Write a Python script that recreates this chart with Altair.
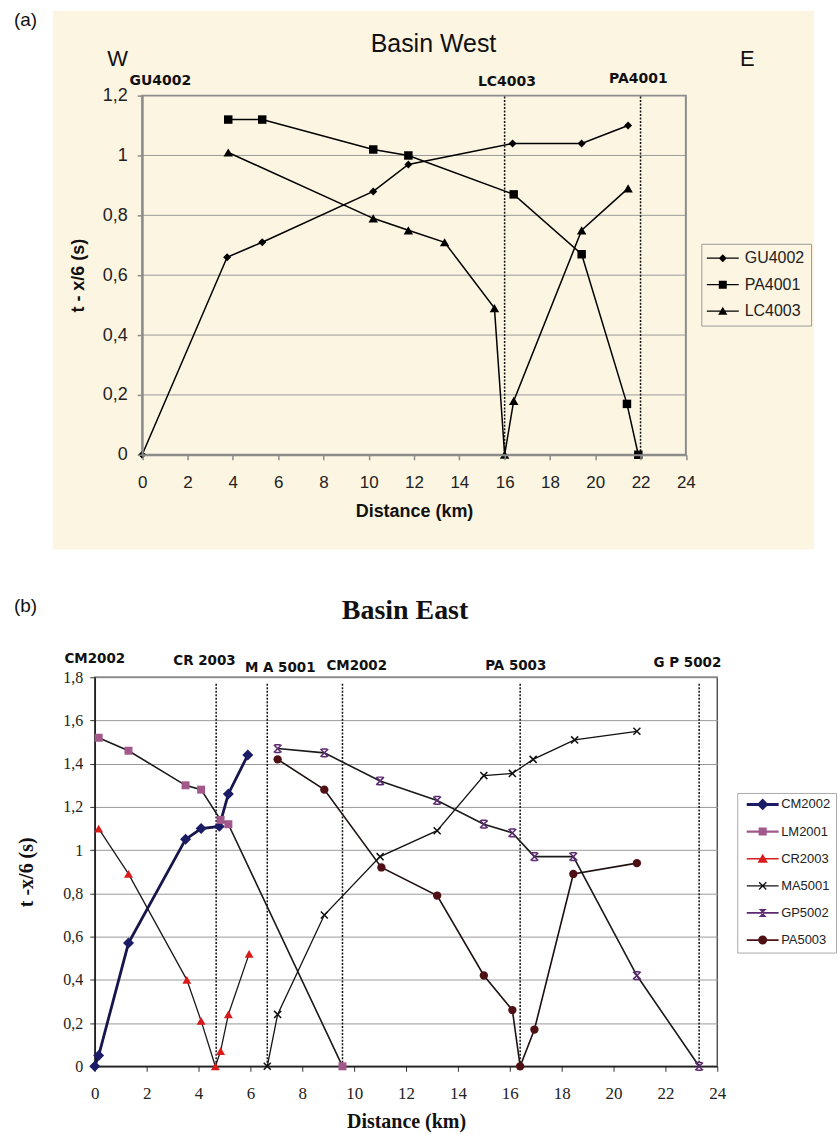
import altair as alt
import pandas as pd

SANS = "Liberation Sans"
SERIF = "Liberation Serif"
BOLDSANS = "DejaVu Sans"
BEIGE = "#FCF5E2"
FRAME_A = "#8c8c8c"

# ---------------- Panel (a): Basin West ----------------
a_series = ["GU4002", "PA4001", "LC4003"]
a_gu_x = [0.0, 3.75, 5.3, 10.2, 11.75, 16.35, 19.4, 21.45]
a_gu_y = [0.0, 0.66, 0.71, 0.88, 0.97, 1.04, 1.04, 1.10]
a_pa_x = [3.8, 5.3, 10.2, 11.75, 16.4, 19.4, 21.4, 21.9]
a_pa_y = [1.12, 1.12, 1.02, 1.00, 0.87, 0.67, 0.17, 0.0]
a_lc_x = [3.8, 10.2, 11.75, 13.35, 15.55, 16.0, 16.4, 19.4, 21.45]
a_lc_y = [1.01, 0.79, 0.75, 0.71, 0.49, 0.0, 0.18, 0.75, 0.89]
a_station_names = ["GU4002", "LC4003", "PA4001"]
a_station_x = [0.8, 16.1, 21.9]
a_station_y = [1.25, 1.245, 1.257]
a_station_lines = [16.0, 22.0]
a_x_ticks = [0, 2, 4, 6, 8, 10, 12, 14, 16, 18, 20, 22, 24]
a_y_ticks = [0, 0.2, 0.4, 0.6, 0.8, 1.0, 1.2]

# ---------------- Panel (b): Basin East ----------------
b_series = ["CM2002", "LM2001", "CR2003", "MA5001", "GP5002", "PA5003"]
b_cm_x = [0.0, 0.15, 1.3, 3.5, 4.1, 4.8, 5.15, 5.9]
b_cm_y = [0.0, 0.05, 0.57, 1.05, 1.10, 1.11, 1.26, 1.44]
b_lm_x = [0.15, 1.3, 3.5, 4.1, 4.85, 5.15, 9.55]
b_lm_y = [1.52, 1.46, 1.30, 1.28, 1.14, 1.12, 0.0]
b_cr_x = [0.15, 1.3, 3.55, 4.1, 4.65, 4.85, 5.15, 5.95]
b_cr_y = [1.10, 0.89, 0.40, 0.21, 0.0, 0.07, 0.24, 0.52]
b_ma_x = [6.65, 7.05, 8.85, 11.0, 13.2, 15.0, 16.1, 16.9, 18.5, 20.9]
b_ma_y = [0.0, 0.24, 0.70, 0.97, 1.09, 1.345, 1.355, 1.42, 1.51, 1.55]
b_gp_x = [7.05, 8.85, 11.0, 13.2, 15.0, 16.1, 16.95, 18.45, 20.9, 23.3]
b_gp_y = [1.47, 1.45, 1.32, 1.23, 1.12, 1.08, 0.97, 0.97, 0.42, 0.0]
b_pa_x = [7.05, 8.85, 11.05, 13.2, 15.0, 16.1, 16.4, 16.95, 18.45, 20.9]
b_pa_y = [1.42, 1.28, 0.92, 0.79, 0.42, 0.26, 0.0, 0.17, 0.89, 0.94]
b_station_names = ["CM2002", "CR 2003", "M A 5001", "CM2002", "PA 5003", "G P 5002"]
b_station_x = [0.0, 4.23, 7.15, 10.1, 16.23, 22.85]
b_station_y = [1.885, 1.875, 1.843, 1.852, 1.852, 1.866]
b_station_lines = [4.68, 6.65, 9.55, 16.4, 23.3]
b_station_line_top = 1.77
b_x_ticks = [0, 2, 4, 6, 8, 10, 12, 14, 16, 18, 20, 22, 24]
b_y_ticks = [0, 0.2, 0.4, 0.6, 0.8, 1.0, 1.2, 1.4, 1.6, 1.8]


def series_frame(names, xs, ys):
    rows = []
    for n, x, y in zip(names, xs, ys):
        for i, (xi, yi) in enumerate(zip(x, y)):
            rows.append({"series": n, "x": xi, "y": yi, "idx": i})
    return pd.DataFrame(rows)


df_a = series_frame(a_series, [a_gu_x, a_pa_x, a_lc_x], [a_gu_y, a_pa_y, a_lc_y])
df_b = series_frame(
    b_series,
    [b_cm_x, b_lm_x, b_cr_x, b_ma_x, b_gp_x, b_pa_x],
    [b_cm_y, b_lm_y, b_cr_y, b_ma_y, b_gp_y, b_pa_y],
)


def ann(text, px, py, font, size, weight="normal", align="center", baseline="middle"):
    return (
        alt.Chart(pd.DataFrame({"t": [text]}))
        .mark_text(font=font, fontSize=size, fontWeight=weight, align=align,
                   baseline=baseline, color="#111")
        .encode(x=alt.value(px), y=alt.value(py), text="t:N")
    )


# ================= Panel (a) =================
# panel (a)'s plot starts 47.5 px right of panel (b)'s; the group origin is shared
OFF = 47.5
WA, HA = 545, 360


def xa():
    return alt.X(
        "x:Q",
        scale=alt.Scale(domain=[0, 24], nice=False, zero=False, range=[OFF, OFF + WA]),
        axis=alt.Axis(
            values=a_x_ticks, title="Distance (km)", grid=False, zindex=1,
            labelFont=SANS, labelFontSize=17, labelColor="#222", labelPadding=15,
            labelFlush=False, tickSize=5, tickColor=FRAME_A, tickWidth=1.5,
            domainColor=FRAME_A, domainWidth=2,
            titleFont=SANS, titleFontSize=18, titleFontWeight="bold",
            titleColor="#111", titlePadding=12,
        ),
    )


def ya():
    return alt.Y(
        "y:Q",
        scale=alt.Scale(domain=[0, 1.2], nice=False),
        axis=alt.Axis(
            values=a_y_ticks, format="~g", labelExpr="replace(datum.label, '.', ',')",
            title="t - x/6 (s)", grid=False, zindex=1, offset=-OFF,
            labelFont=SANS, labelFontSize=18, labelColor="#222", labelPadding=10,
            tickSize=5, tickColor=FRAME_A, tickWidth=1.5,
            domainColor=FRAME_A, domainWidth=2,
            titleFont=SANS, titleFontSize=18, titleFontWeight="bold",
            titleColor="#111", titlePadding=15,
        ),
    )


layers_a = []
# beige chart-area background
layers_a.append(
    alt.Chart(pd.DataFrame({"k": [0]})).mark_rect(color=BEIGE).encode(
        x=alt.value(-42), x2=alt.value(721), y=alt.value(-85), y2=alt.value(455)
    )
)
# horizontal grid
layers_a.append(
    alt.Chart(pd.DataFrame({"y": a_y_ticks[1:-1], "x": [0] * 5, "x2": [24] * 5}))
    .mark_rule(color="#9a9a9a", strokeWidth=1)
    .encode(x=xa(), x2="x2:Q", y=ya())
)
# plot frame
layers_a.append(
    alt.Chart(pd.DataFrame({"x": [0], "x2": [24], "y": [0.0], "y2": [1.2]}))
    .mark_rect(filled=False, color=FRAME_A, strokeWidth=2)
    .encode(x=xa(), x2="x2:Q", y=ya(), y2="y2:Q")
)
# dotted station lines
layers_a.append(
    alt.Chart(pd.DataFrame({"x": a_station_lines, "y": [0.0] * 2, "y2": [1.2] * 2}))
    .mark_rule(color="#111", strokeWidth=1.5, strokeDash=[2, 1.5])
    .encode(x=xa(), y=ya(), y2="y2:Q")
)
# series lines
layers_a.append(
    alt.Chart(df_a).mark_line(color="black", strokeWidth=1.5).encode(
        x=xa(), y=ya(), detail="series:N", order="idx:Q"
    )
)
a_marker_shape = ["diamond", "square", "triangle-up"]
a_marker_size = [64, 72, 90]
for name, shp, sz in zip(a_series, a_marker_shape, a_marker_size):
    layers_a.append(
        alt.Chart(df_a)
        .transform_filter(alt.datum.series == name)
        .mark_point(filled=True, shape=shp, size=sz, color="black", opacity=1)
        .encode(x=xa(), y=ya())
    )
# station labels
layers_a.append(
    alt.Chart(pd.DataFrame({"x": a_station_x, "y": a_station_y, "label": a_station_names}))
    .mark_text(font=BOLDSANS, fontWeight="bold", fontSize=14, color="#111", baseline="middle")
    .encode(x=xa(), y=ya(), text="label:N")
)
layers_a.append(ann("(a)", -81, -76, SANS, 19, align="left"))
layers_a.append(ann("Basin West", 339.5, -44, SANS, 25, baseline="alphabetic"))
layers_a.append(ann("W", 23, -30, SANS, 22, baseline="alphabetic"))
layers_a.append(ann("E", 654, -30, SANS, 22, baseline="alphabetic"))

# legend symbols: a short line with the marker on it (filled shapes)
a_legend_paths = [
    "M-4,-0.16H4V0.16H-4Z M0,-1L1,0L0,1L-1,0Z",
    "M-4,-0.16H4V0.16H-4Z M-1,-1H1V1H-1Z",
    "M-4,-0.16H4V0.16H-4Z M0,-1.1L1.15,0.9H-1.15Z",
]
leg_a = alt.Legend(
    orient="none", legendX=608, legendY=148.5, title=None, padding=6.5,
    strokeColor="#999999", fillColor=BEIGE, cornerRadius=0,
    symbolSize=64, symbolStrokeWidth=0,
    symbolOffset=7, labelOffset=14, symbolOpacity=1,
    labelFont=SANS, labelFontSize=16, labelColor="#222", rowPadding=10.5, labelLimit=300,
)
layers_a.append(
    alt.Chart(df_a)
    .transform_filter("false")
    .mark_point(filled=True, opacity=1)
    .encode(
        color=alt.Color("series:N", scale=alt.Scale(domain=a_series, range=["black"] * 3), legend=leg_a),
        shape=alt.Shape("series:N", scale=alt.Scale(domain=a_series, range=a_legend_paths), legend=leg_a),
    )
)

panel_a = alt.layer(*layers_a).properties(
    width=OFF + WA, height=HA,
    view=alt.ViewBackground(fill=BEIGE, stroke="transparent", strokeWidth=0),
)

# ================= Panel (b) =================
WB, HB = 624, 390


def xb():
    return alt.X(
        "x:Q",
        scale=alt.Scale(domain=[0, 24], nice=False, zero=False),
        axis=alt.Axis(
            values=b_x_ticks, title="Distance (km)", grid=False,
            labelFont=SERIF, labelFontSize=17, labelColor="#222", labelPadding=14,
            labelFlush=False, tickSize=5, tickColor="#333", tickWidth=1,
            domainColor="#222", domainWidth=1.5,
            titleFont=SERIF, titleFontSize=20, titleFontWeight="bold",
            titleColor="#111", titlePadding=10,
        ),
    )


def yb():
    return alt.Y(
        "y:Q",
        scale=alt.Scale(domain=[0, 1.8], nice=False),
        axis=alt.Axis(
            values=b_y_ticks, format="~g", labelExpr="replace(datum.label, '.', ',')",
            title="t -x/6 (s)", grid=True, gridColor="#9a9a9a", gridWidth=1,
            labelFont=SERIF, labelFontSize=16, labelColor="#222", labelPadding=7,
            tickSize=5, tickColor="#333", tickWidth=1,
            domainColor="#222", domainWidth=1.5,
            titleFont=SERIF, titleFontSize=20, titleFontWeight="bold",
            titleColor="#111", titlePadding=26,
        ),
    )


layers_b = []
layers_b.append(
    alt.Chart(pd.DataFrame({"x": b_station_lines, "y": [0.0] * 5, "y2": [b_station_line_top] * 5}))
    .mark_rule(color="#111", strokeWidth=1.5, strokeDash=[2, 1.5])
    .encode(x=xb(), y=yb(), y2="y2:Q")
)
b_line_color = ["#16164d", "#1a1a1a", "#1a1a1a", "#111111", "#1a1a1a", "#1f1010"]
b_line_width = [2.8, 1.6, 1.3, 1.3, 1.6, 1.6]
for name, c, w in zip(b_series, b_line_color, b_line_width):
    layers_b.append(
        alt.Chart(df_b)
        .transform_filter(alt.datum.series == name)
        .mark_line(color=c, strokeWidth=w)
        .encode(x=xb(), y=yb(), order="idx:Q")
    )

b_marker_color = ["#1b1b66", "#a2588a", "#d81c1c", "#111111", "#5c2a70", "#4e1015"]
b_marker_shape = [
    "diamond", "square", "triangle-up",
    "M-1,-1L1,1M-1,1L1,-1",
    "M-1,-1L1,1M1,-1L-1,1M-0.7,-1H0.7M-0.7,1H0.7",
    "circle",
]
b_marker_size = [121, 64, 81, 50, 60, 70]
b_marker_filled = [True, True, True, False, False, True]
for name, c, shp, sz, fl in zip(b_series, b_marker_color, b_marker_shape, b_marker_size, b_marker_filled):
    mk = dict(filled=fl, shape=shp, size=sz, opacity=1)
    if fl:
        mk["color"] = c
    else:
        mk["stroke"] = c
        mk["strokeWidth"] = 1.5
    layers_b.append(
        alt.Chart(df_b)
        .transform_filter(alt.datum.series == name)
        .mark_point(**mk)
        .encode(x=xb(), y=yb())
    )

layers_b.append(
    alt.Chart(pd.DataFrame({"x": b_station_x, "y": b_station_y, "label": b_station_names}))
    .mark_text(font=BOLDSANS, fontWeight="bold", fontSize=13.5, color="#111", baseline="middle")
    .encode(x=xb(), y=yb(), text="label:N")
)
layers_b.append(ann("(b)", -81, -71, SANS, 19, align="left"))
layers_b.append(ann("Basin East", 311, -58, SERIF, 28, weight="bold", baseline="alphabetic"))

b_legend_paths = [
    "M-3.55,-0.33H3.55V0.33H-3.55Z M0,-1.3L1.3,0L0,1.3L-1.3,0Z",
    "M-3.55,-0.25H3.55V0.25H-3.55Z M-0.9,-0.9H0.9V0.9H-0.9Z",
    "M-3.55,-0.17H3.55V0.17H-3.55Z M0,-1.1L1.15,0.9H-1.15Z",
    "M-3.55,-0.15H3.55V0.15H-3.55Z M-0.9,-0.7L-0.7,-0.9L0.9,0.7L0.7,0.9Z M-0.9,0.7L0.7,-0.9L0.9,-0.7L-0.7,0.9Z",
    "M-3.55,-0.2H3.55V0.2H-3.55Z M-0.9,-0.9H0.9L-0.9,0.9H0.9Z",
    "M-3.55,-0.2H3.55V0.2H-3.55Z M-1,0A1,1 0 1,1 1,0A1,1 0 1,1 -1,0Z",
]
leg_b = alt.Legend(
    orient="none", legendX=644, legendY=116, title=None, padding=5,
    strokeColor="#aaaaaa", fillColor="white", cornerRadius=0,
    symbolSize=81, symbolStrokeWidth=0,
    symbolOffset=14, labelOffset=12, symbolOpacity=1,
    labelFont=SANS, labelFontSize=13, labelColor="#222", rowPadding=13.2, labelLimit=300,
)
layers_b.append(
    alt.Chart(df_b)
    .transform_filter("false")
    .mark_point(filled=True, opacity=1)
    .encode(
        color=alt.Color("series:N", scale=alt.Scale(domain=b_series, range=b_marker_color), legend=leg_b),
        shape=alt.Shape("series:N", scale=alt.Scale(domain=b_series, range=b_legend_paths), legend=leg_b),
    )
)

panel_b = alt.layer(*layers_b).properties(
    width=WB, height=HB,
    view=alt.ViewBackground(fill="white", stroke="#555555", strokeWidth=1.5),
)

chart = (
    alt.vconcat(panel_a, panel_b, spacing=47)
    .resolve_scale(color="independent", shape="independent")
    .resolve_legend(color="independent", shape="independent")
    .properties(
        padding={"left": 13, "top": 9.5, "right": 0, "bottom": 0},
        background="white",
    )
)

chart.save("out.html", embed_options={"renderer": "svg", "actions": False})
